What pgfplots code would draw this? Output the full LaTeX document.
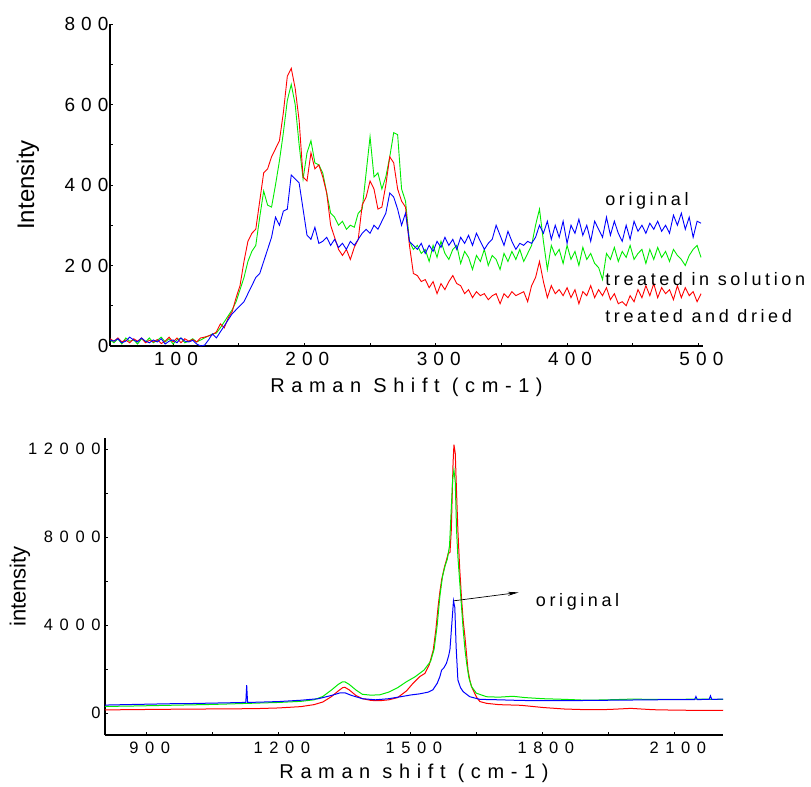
\documentclass[border=0pt]{standalone}
\usepackage{fontspec}
\setmainfont{Liberation Sans}
\usepackage{pgfplots}
\pgfplotsset{compat=1.18}
\usepackage{pgfplotstable}
\usetikzlibrary{arrows.meta}
\newfontfamily\tickA[LetterSpace=32]{Liberation Sans}
\newfontfamily\tickB[LetterSpace=40]{Liberation Sans}
\newfontfamily\titlefont[LetterSpace=33]{Liberation Sans}
\newfontfamily\notefont[LetterSpace=20]{Liberation Sans}
\definecolor{cred}{RGB}{255,0,0}
\definecolor{cgreen}{RGB}{0,235,0}
\definecolor{cblue}{RGB}{0,0,255}

\pgfplotstableread{
x y
52 18
55 12
58 20
61 10
64 15
67 8
70 18
73 12
76 20
79 8
82 14
85 10
88 16
91 6
94 12
97 22
100 10
103 20
106 8
109 18
112 12
115 16
118 10
121 20
124 22
127 25
130 28
133 35
136 55
139 45
142 70
145 85
148 120
151 150
154 210
157 260
160 280
163 290
166 360
169 430
172 440
175 470
178 490
181 510
184 580
187 670
190 690
193 640
196 560
199 420
202 410
205 480
208 440
211 450
214 420
217 380
220 300
223 270
226 240
229 225
232 240
235 215
238 245
241 265
244 350
247 370
250 410
253 390
256 340
259 345
262 400
265 470
268 455
271 390
274 360
277 345
280 250
283 180
286 175
289 160
292 165
295 145
298 160
301 130
304 155
307 140
310 160
313 175
316 155
319 150
322 130
325 140
328 120
331 135
334 125
337 130
340 115
343 125
346 130
349 105
352 130
355 120
358 135
361 125
364 130
367 135
370 110
373 150
376 170
379 210
382 160
385 120
388 150
391 130
394 140
397 125
400 145
403 120
406 140
409 105
412 135
415 125
418 150
421 120
424 140
427 125
430 145
433 115
436 130
439 105
442 110
445 100
448 125
451 110
454 140
457 120
460 150
463 125
466 155
469 120
472 145
475 130
478 140
481 115
484 150
487 120
490 145
493 125
496 135
499 110
502 130
}\topred

\pgfplotstableread{
x y
52 15
55 8
58 18
61 5
64 20
67 12
70 15
73 5
76 18
79 10
82 20
85 8
88 14
91 22
94 10
97 18
100 5
103 15
106 20
109 8
112 12
115 18
118 10
121 15
124 20
127 25
130 30
133 32
136 45
139 60
142 75
145 90
148 110
151 140
154 170
157 210
160 235
163 250
166 320
169 385
172 350
175 345
178 400
181 460
184 530
187 610
190 650
193 600
196 500
199 415
202 480
205 510
208 455
211 450
214 430
217 380
220 330
223 320
226 300
229 310
232 290
235 300
238 295
241 330
244 340
247 430
250 520
253 420
256 430
259 390
262 420
265 470
268 530
271 525
274 390
277 360
280 260
283 240
286 250
289 230
292 240
295 210
298 250
301 220
304 260
307 230
310 215
313 240
316 250
319 205
322 235
325 220
328 190
331 225
334 210
337 240
340 200
343 225
346 215
349 190
352 230
355 210
358 235
361 215
364 240
367 210
370 230
373 250
376 300
379 340
382 260
385 190
388 250
391 225
394 240
397 205
400 250
403 215
406 235
409 200
412 245
415 215
418 230
421 205
424 195
427 165
430 230
433 215
436 245
439 210
442 235
445 220
448 250
451 215
454 230
457 240
460 205
463 240
466 215
469 245
472 220
475 235
478 210
481 240
484 225
487 215
490 200
493 225
496 240
499 250
502 220
}\topgreen

\pgfplotstableread{
x y
52 15
55 12
58 18
61 8
64 12
67 22
70 15
73 10
76 20
79 12
82 8
85 15
88 10
91 18
94 5
97 12
100 15
103 8
106 20
109 12
112 10
115 14
118 5
121 0
124 2
127 15
130 30
133 20
136 35
139 50
142 65
145 80
148 90
151 100
154 110
157 130
160 150
163 170
166 180
169 210
172 240
175 270
178 320
181 300
184 335
187 340
190 425
193 415
196 405
199 340
202 275
205 265
208 295
211 255
214 260
217 270
220 250
223 265
226 245
229 255
232 240
235 260
238 250
241 265
244 280
247 290
250 280
253 300
256 290
259 310
262 330
265 380
268 370
271 340
274 300
277 330
280 260
283 250
286 240
289 255
292 230
295 250
298 235
301 260
304 245
307 270
310 250
313 265
316 240
319 270
322 255
325 275
328 250
331 280
334 260
337 240
340 255
343 265
346 300
349 275
352 250
355 285
358 260
361 240
364 255
367 250
370 260
373 255
376 270
379 300
382 280
385 310
388 265
391 300
394 270
397 310
400 255
403 300
406 280
409 315
412 275
415 300
418 260
421 310
424 290
427 270
430 320
433 275
436 310
439 280
442 260
445 300
448 265
451 310
454 285
457 300
460 280
463 305
466 290
469 310
472 285
475 300
478 280
481 325
484 300
487 330
490 290
493 320
496 270
499 310
502 305
}\topblue

\pgfplotstableread{
x y
805 140
850 150
900 160
950 170
1000 175
1050 185
1100 190
1150 200
1200 230
1250 290
1280 380
1300 500
1320 750
1335 1000
1345 1150
1350 1170
1360 1050
1375 800
1390 650
1410 570
1430 560
1450 600
1470 700
1490 1000
1505 1350
1520 1650
1532 1800
1542 2200
1551 2860
1557 3800
1562 4830
1566 5500
1570 6050
1576 6600
1581 6950
1585 7250
1589 7300
1592 8300
1596 11350
1598 12200
1601 11800
1604 10000
1607 8300
1611 6600
1615 5290
1619 4200
1623 3470
1627 2600
1630 1950
1634 1500
1638 1200
1645 900
1650 700
1657 520
1672 440
1700 380
1750 350
1800 250
1850 180
1900 150
1950 160
2000 210
2050 150
2100 130
2150 120
2210 125
}\botred

\pgfplotstableread{
x y
805 300
850 310
900 330
950 350
1000 370
1050 390
1100 420
1150 450
1200 480
1250 530
1280 600
1300 750
1320 1050
1335 1300
1345 1420
1350 1420
1360 1300
1375 1050
1390 850
1410 810
1430 830
1450 950
1470 1150
1490 1420
1510 1650
1530 1950
1545 2350
1553 2900
1560 4000
1566 5300
1572 6200
1578 6700
1583 7000
1588 7600
1592 9300
1595 10600
1598 11050
1601 10500
1604 8300
1607 7100
1611 6000
1615 4900
1619 3800
1623 2900
1627 2250
1632 1600
1638 1200
1649 900
1672 740
1700 720
1732 760
1760 700
1800 650
1850 620
1900 580
1950 600
2000 630
2050 620
2100 620
2150 630
2210 620
}\botgreen

\pgfplotstableread{
x y
805 360
850 380
900 400
950 420
1000 430
1050 450
1100 470
1122 480
1125 480
1127 1270
1129 480
1150 490
1200 520
1250 580
1290 650
1320 800
1340 920
1350 920
1365 800
1390 650
1420 600
1450 650
1480 750
1500 820
1520 870
1540 950
1550 1050
1560 1350
1566 1650
1570 1950
1575 2050
1581 2260
1586 2600
1589 2900
1593 4000
1597 5100
1600 4800
1603 3000
1607 1500
1613 1150
1619 970
1634 740
1657 620
1700 600
1750 570
1800 560
1850 560
1900 570
1950 580
2000 590
2050 600
2100 610
2145 610
2148 750
2151 610
2178 620
2181 780
2184 620
2210 630
}\botblue

\begin{document}
\begin{tikzpicture}
\useasboundingbox (0,0) rectangle (811bp,787bp);
\begin{axis}[
  at={(110bp,441bp)}, anchor=south west,
  scale only axis, width=593bp, height=322bp,
  xmin=52, xmax=503.5, ymin=0, ymax=800,
  axis x line*=bottom, axis y line*=left,
  axis line style={line width=1.2bp, black},
  xtick={100,200,300,400,500}, ytick={0,200,400,600,800},
  minor x tick num=1, minor y tick num=1,
  tick align=inside, major tick length=3bp, minor tick length=2.5bp,
  tick style={black, line width=0.8bp},
  every tick label/.append style={font=\tickA\fontsize{19bp}{22bp}\selectfont},
  xticklabel style={yshift=-3bp, xshift=3bp},
  yticklabel style={xshift=2bp},
  /pgf/number format/assume math mode=true,
  /pgf/number format/1000 sep={},
  scaled ticks=false,
  xlabel={Raman Shift (cm-1)},
  ylabel={Intensity},
  every axis x label/.style={at={(axis description cs:0.5,0)}, anchor=center, yshift=-41bp, font=\titlefont\fontsize{20bp}{24bp}\selectfont},
  every axis y label/.style={at={(axis description cs:-0.1383,0.5)}, anchor=center, rotate=90, font=\fontsize{24bp}{28bp}\selectfont},
  clip=false,
]
\addplot[cgreen, line width=0.9bp] table {\topgreen};
\addplot[cred, line width=0.9bp] table {\topred};
\addplot[cblue, line width=0.9bp] table {\topblue};
\node[anchor=base west, font=\notefont\fontsize{18bp}{20bp}\selectfont, inner sep=0pt] at (axis cs:429,348) {original};
\node[anchor=base west, font=\notefont\fontsize{18bp}{20bp}\selectfont, inner sep=0pt] at (axis cs:429,151) {treated in solution};
\node[anchor=base west, font=\notefont\fontsize{18bp}{20bp}\selectfont, inner sep=0pt] at (axis cs:429,58) {treated and dried};
\end{axis}

\begin{axis}[
  at={(105bp,52bp)}, anchor=south west,
  scale only axis, width=618bp, height=297bp,
  xmin=805, xmax=2209.5, ymin=-1000, ymax=12500,
  axis x line*=bottom, axis y line*=left,
  axis line style={line width=1.2bp, black},
  xtick={900,1200,1500,1800,2100}, ytick={0,4000,8000,12000},
  minor x tick num=1, minor y tick num=1,
  tick align=inside, major tick length=3bp, minor tick length=2.5bp,
  tick style={black, line width=0.8bp},
  every tick label/.append style={font=\tickB\fontsize{16.5bp}{19bp}\selectfont},
  xticklabel style={yshift=-3bp, xshift=3bp},
  yticklabel style={xshift=-1bp},
  /pgf/number format/assume math mode=true,
  /pgf/number format/1000 sep={},
  scaled ticks=false,
  xlabel={Raman shift (cm-1)},
  ylabel={intensity},
  every axis x label/.style={at={(axis description cs:0.5,0)}, anchor=center, yshift=-38bp, font=\titlefont\fontsize{20bp}{24bp}\selectfont},
  every axis y label/.style={at={(axis description cs:-0.1375,0.5)}, anchor=center, rotate=90, font=\fontsize{22bp}{26bp}\selectfont},
  clip=false,
]
\addplot[cred, line width=1bp] table {\botred};
\addplot[cgreen, line width=1bp] table {\botgreen};
\addplot[cblue, line width=1bp] table {\botblue};
\draw[-{Stealth[length=11bp,width=4bp]}, line width=0.7bp] (axis cs:1598,5100) -- (axis cs:1745,5480);
\node[anchor=base west, font=\notefont\fontsize{18bp}{20bp}\selectfont, inner sep=0pt] at (axis cs:1784,4860) {original};
\end{axis}
\end{tikzpicture}
\end{document}
